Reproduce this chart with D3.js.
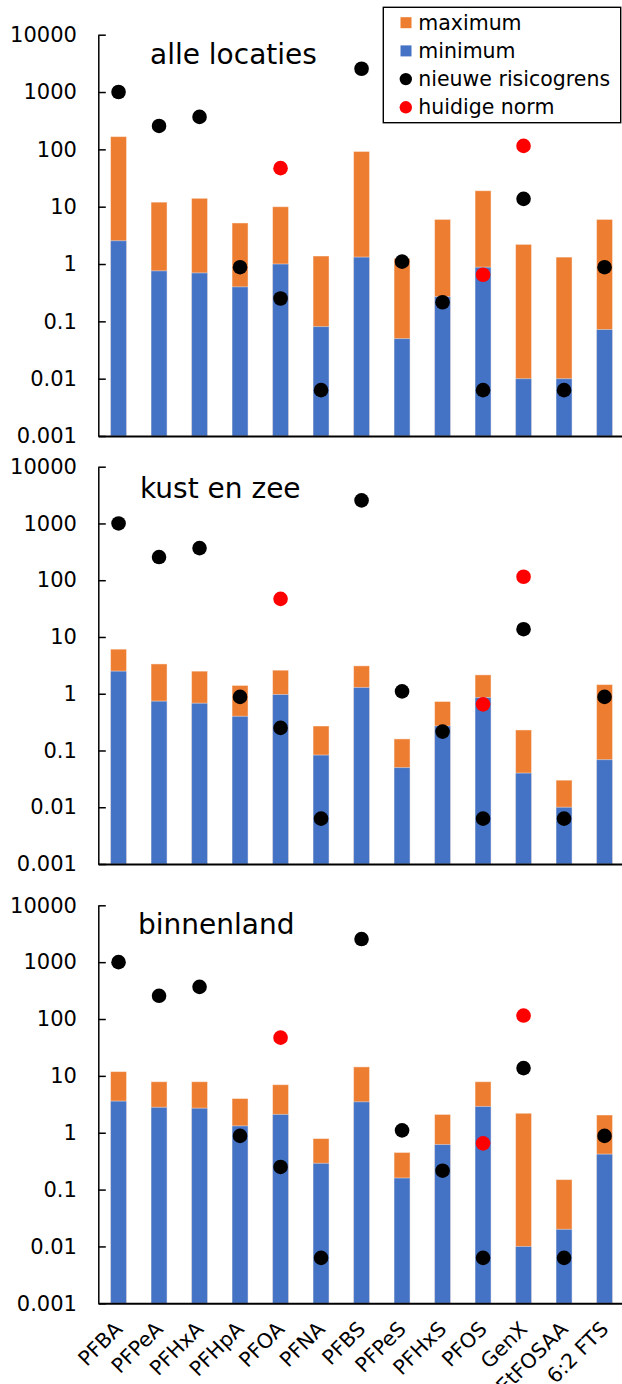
<!DOCTYPE html>
<html>
<head>
<meta charset="utf-8">
<script src="https://cdn.jsdelivr.net/npm/d3@7"></script>
<style>
  html, body { margin: 0; padding: 0; background: #fff; }
  svg { display: block; font-family: "DejaVu Sans", Verdana, sans-serif; }
</style>
</head>
<body>
<svg id="chart" width="622" height="1384"></svg>
<script>
// PFAS concentrations per substance: min and max over locations, with limit values
const categories = ["PFBA", "PFPeA", "PFHxA", "PFHpA", "PFOA", "PFNA", "PFBS", "PFPeS", "PFHxS", "PFOS", "GenX", "EtFOSAA", "6:2 FTS"];

const alleMax = [167, 12, 14, 5.2, 10, 1.38, 92, 1.25, 6.0, 19, 2.2, 1.32, 6.0];
const alleMin = [2.55, 0.76, 0.70, 0.40, 1.0, 0.081, 1.32, 0.050, 0.27, 0.88, 0.010, 0.010, 0.072];

const kustMax = [6.1, 3.35, 2.5, 1.4, 2.6, 0.27, 3.1, 0.16, 0.73, 2.15, 0.23, 0.030, 1.45];
const kustMin = [2.5, 0.74, 0.68, 0.40, 0.97, 0.083, 1.29, 0.050, 0.27, 0.86, 0.040, 0.010, 0.069];

const binnenMax = [11.9, 7.9, 7.9, 4.0, 7.0, 0.79, 14.4, 0.45, 2.1, 7.9, 2.2, 0.15, 2.05];
const binnenMin = [3.6, 2.8, 2.7, 1.32, 2.1, 0.29, 3.5, 0.16, 0.62, 2.9, 0.010, 0.020, 0.42];

// new risk limit and current standard (same for every panel)
const risicogrens = [1000, 256, 368, 0.88, 0.25, 0.0063, 2550, 1.1, 0.215, 0.0063, 13.7, 0.0063, 0.88];
const huidigeNorm = [null, null, null, null, 47, null, null, null, null, 0.65, 115, null, null];

const yTicks = [0.001, 0.01, 0.1, 1, 10, 100, 1000, 10000];
const yTickLabels = ["0.001", "0.01", "0.1", "1", "10", "100", "1000", "10000"];

const panelTitles = ["alle locaties", "kust en zee", "binnenland"];
const legendLabels = ["maximum", "minimum", "nieuwe risicogrens", "huidige norm"];

const COLOR_MAX = "#ED7D31";
const COLOR_MIN = "#4472C4";
const COLOR_RISK = "#000000";
const COLOR_NORM = "#FF0000";

const svg = d3.select("#chart");

const axisX = 98.3;
const band = 40.5;
const x = d3.scaleBand()
  .domain(categories)
  .range([axisX, axisX + band * categories.length])
  .paddingInner(0.605)
  .paddingOuter(0.3025);

const panels = [
  { title: panelTitles[0], max: alleMax, min: alleMin, top: 34.7, bottom: 436, titleX: 150, titleY: 64 },
  { title: panelTitles[1], max: kustMax, min: kustMin, top: 466.7, bottom: 864, titleX: 140, titleY: 498.3 },
  { title: panelTitles[2], max: binnenMax, min: binnenMin, top: 905.3, bottom: 1303.3, titleX: 138, titleY: 934.3 }
];

panels.forEach((p, pi) => {
  const y = d3.scaleLog().domain([0.001, 10000]).range([p.bottom, p.top]);
  const g = svg.append("g");
  const bw = x.bandwidth();

  // maximum bars (full height up to max), minimum bars drawn on top
  g.selectAll("rect.max").data(categories).join("rect")
    .attr("class", "max")
    .attr("x", d => x(d))
    .attr("width", bw)
    .attr("y", (d, i) => y(p.max[i]))
    .attr("height", (d, i) => y(0.001) - y(p.max[i]))
    .attr("fill", COLOR_MAX)
    .attr("stroke", "rgba(255,255,255,0.45)")
    .attr("stroke-width", 1);

  g.selectAll("rect.min").data(categories).join("rect")
    .attr("class", "min")
    .attr("x", d => x(d))
    .attr("width", bw)
    .attr("y", (d, i) => y(p.min[i]))
    .attr("height", (d, i) => y(0.001) - y(p.min[i]))
    .attr("fill", COLOR_MIN)
    .attr("stroke", "rgba(255,255,255,0.45)")
    .attr("stroke-width", 1);

  // y axis
  const yAxis = d3.axisLeft(y)
    .tickValues(yTicks)
    .tickFormat((d, i) => yTickLabels[i])
    .tickSizeInner(-7.5)
    .tickSizeOuter(0)
    .tickPadding(21.4);
  const ya = g.append("g").attr("transform", `translate(${axisX},0)`).call(yAxis);
  ya.select(".domain").attr("stroke", "#000").attr("stroke-width", 1.5);
  ya.selectAll(".tick line").attr("stroke", "#000").attr("stroke-width", 1.5);
  ya.selectAll(".tick text")
    .attr("fill", "#000")
    .style("font-size", "21px")
    .style("font-family", "'DejaVu Sans', Verdana, sans-serif");

  // x axis
  const xAxis = d3.axisBottom(x).tickSize(0).tickSizeOuter(0).tickFormat(() => "");
  const xa = g.append("g").attr("transform", `translate(0,${p.bottom})`).call(xAxis);
  xa.select(".domain").attr("stroke", "#000").attr("stroke-width", 2);

  // markers
  const cx = d => x(d) + bw / 2;
  g.selectAll("circle.risk").data(categories).join("circle")
    .attr("class", "risk")
    .attr("cx", cx)
    .attr("cy", (d, i) => y(risicogrens[i]))
    .attr("r", 7.3)
    .attr("fill", COLOR_RISK);

  g.selectAll("circle.norm").data(categories.filter((d, i) => huidigeNorm[i] != null)).join("circle")
    .attr("class", "norm")
    .attr("cx", cx)
    .attr("cy", d => y(huidigeNorm[categories.indexOf(d)]))
    .attr("r", 7.3)
    .attr("fill", COLOR_NORM);

  // panel title
  g.append("text")
    .attr("x", p.titleX)
    .attr("y", p.titleY)
    .attr("fill", "#000")
    .style("font-size", "28px")
    .text(p.title);

  // category labels under the last panel
  if (pi === panels.length - 1) {
    g.selectAll("text.cat").data(categories).join("text")
      .attr("class", "cat")
      .attr("transform", d => `translate(${cx(d)},${p.bottom + 22}) rotate(-45)`)
      .attr("text-anchor", "end")
      .attr("dy", "0.35em")
      .attr("fill", "#000")
      .style("font-size", "20.5px")
      .text(d => d);
  }
});

// legend
const lg = svg.append("g");
lg.append("rect")
  .attr("x", 383.3).attr("y", 7.3)
  .attr("width", 237.4).attr("height", 115.4)
  .attr("fill", "#fff")
  .attr("stroke", "#000")
  .attr("stroke-width", 1.4);

const legendItems = [
  { label: legendLabels[0], type: "rect", color: COLOR_MAX },
  { label: legendLabels[1], type: "rect", color: COLOR_MIN },
  { label: legendLabels[2], type: "circle", color: COLOR_RISK },
  { label: legendLabels[3], type: "circle", color: COLOR_NORM }
];
legendItems.forEach((it, i) => {
  const cy = 22.7 + i * 28.2;
  if (it.type === "rect") {
    lg.append("rect")
      .attr("x", 400.5).attr("y", cy - 5.5)
      .attr("width", 11).attr("height", 11)
      .attr("fill", it.color);
  } else {
    lg.append("circle")
      .attr("cx", 405.8).attr("cy", cy)
      .attr("r", 6.2)
      .attr("fill", it.color);
  }
  lg.append("text")
    .attr("x", 418.3).attr("y", cy)
    .attr("dy", "0.35em")
    .attr("fill", "#000")
    .style("font-size", "20.5px")
    .text(it.label);
});
</script>
</body>
</html>
